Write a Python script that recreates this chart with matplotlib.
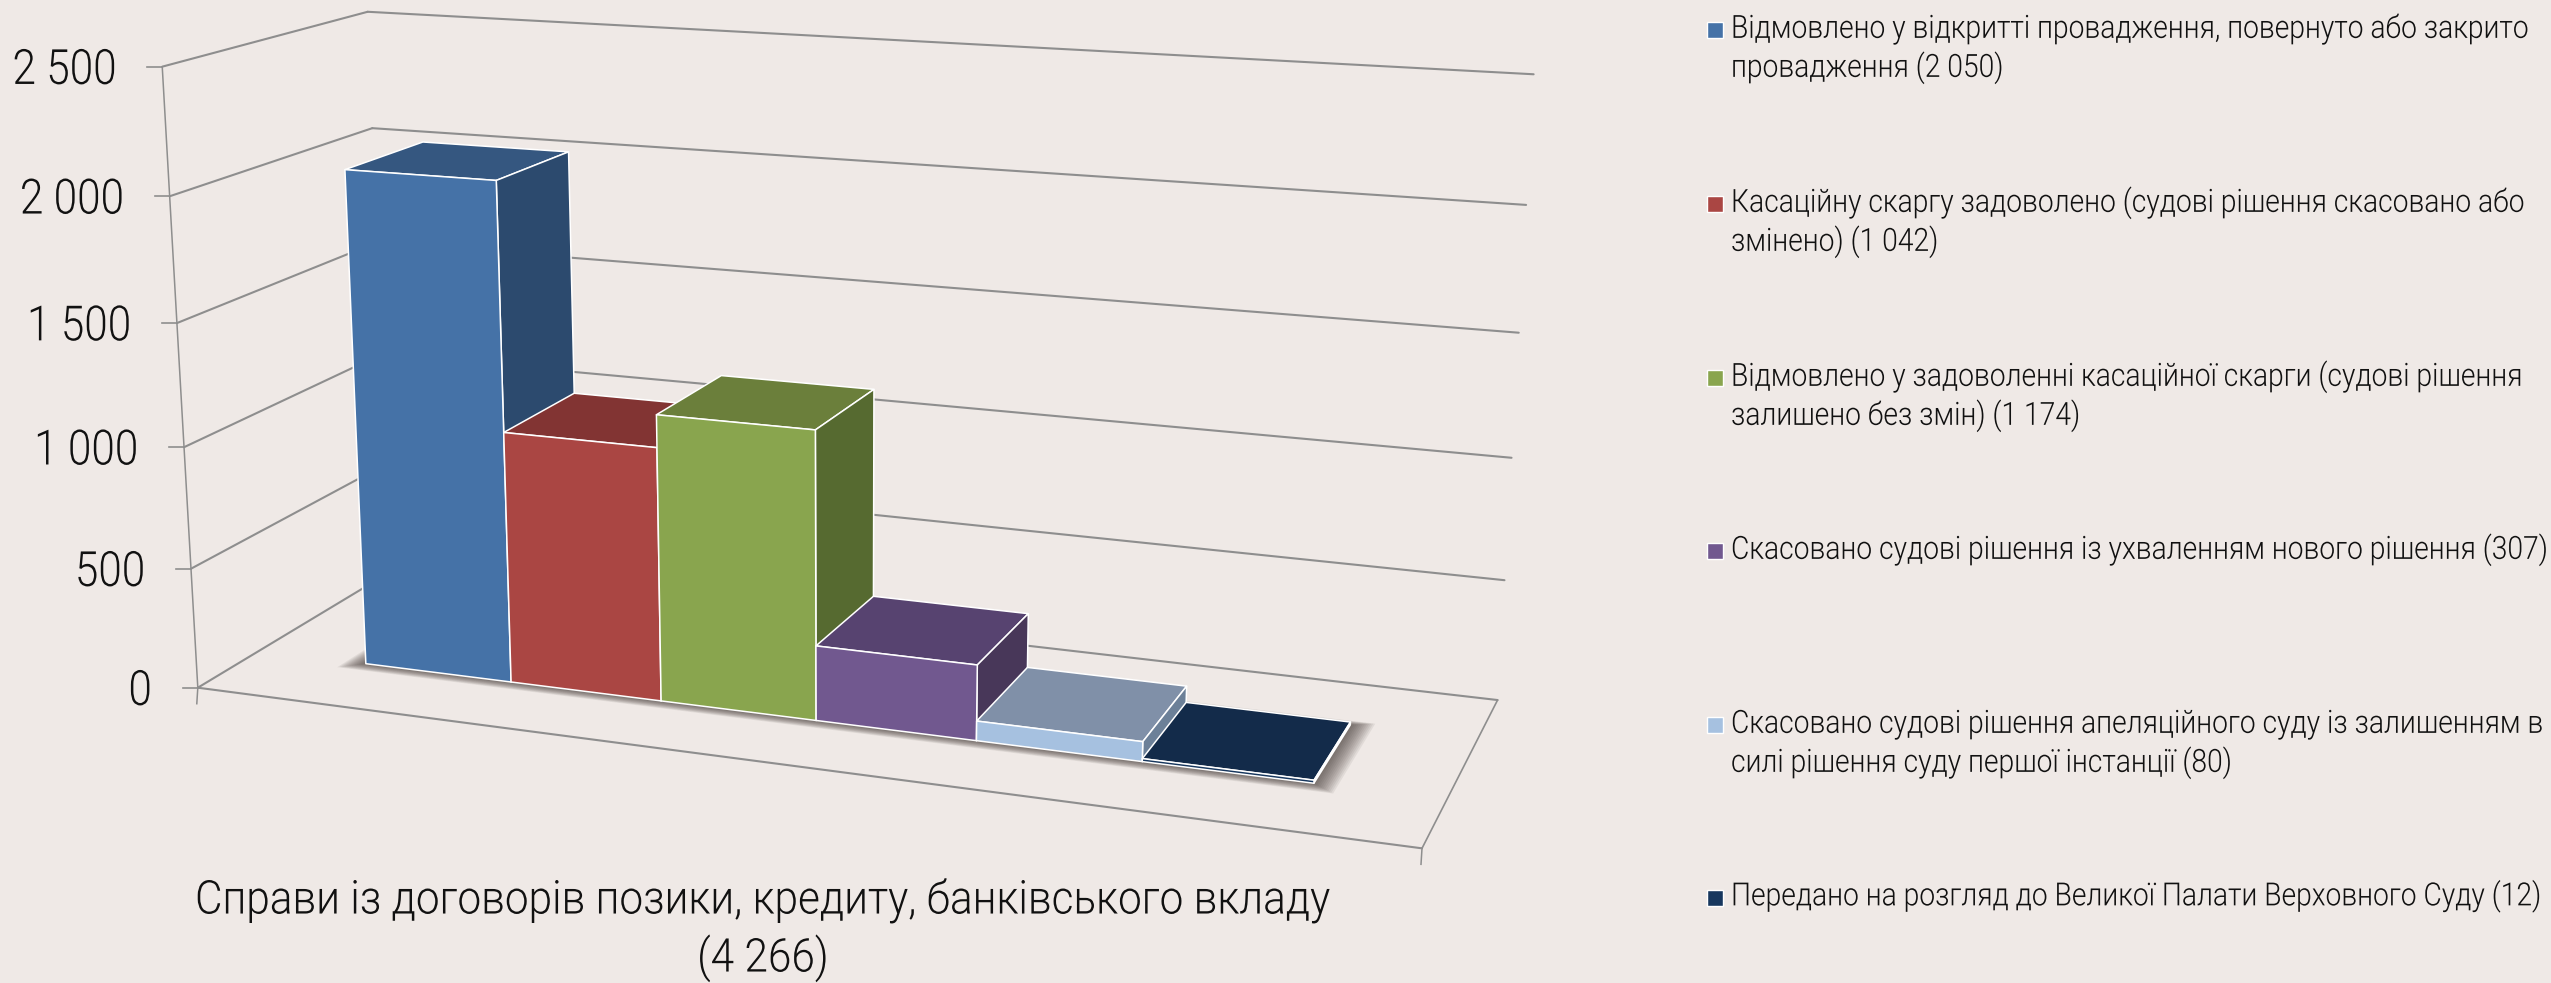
import numpy as np
import matplotlib
matplotlib.use('Agg')
import matplotlib.pyplot as plt
import matplotlib.patheffects as pe
from matplotlib.patches import Polygon
from matplotlib.transforms import Affine2D

values = [2050, 1042, 1174, 307, 80, 12]
labels = ['Відмовлено у відкритті провадження, повернуто або закрито\nпровадження (2 050)',
          'Касаційну скаргу задоволено (судові рішення скасовано або\nзмінено) (1 042)',
          'Відмовлено у задоволенні касаційної скарги (судові рішення\nзалишено без змін) (1 174)',
          'Скасовано судові рішення із ухваленням нового рішення (307)',
          'Скасовано судові рішення апеляційного суду із залишенням в\nсилі рішення суду першої інстанції (80)',
          'Передано на розгляд до Великої Палати Верховного Суду (12)']
category = 'Справи із договорів позики, кредиту, банківського вкладу\n(4 266)'
yticks = [0, 500, 1000, 1500, 2000, 2500]
ytick_labels = ['0', '500', '1 000', '1 500', '2 000', '2 500']

front_colors = ['#4572a7', '#aa4643', '#89a54e', '#71588f', '#a6c1e0', '#17375e']
top_colors = ['#355780', '#823433', '#6b7f3b', '#574370', '#8090a8', '#132b4a']
side_colors = ['#2c4a6e', '#6e2b2a', '#566a30', '#483759', '#6c8098', '#0f233d']
bg = '#efe9e6'
grid = '#8e8e8e'

ymax = 2500
v0, v1 = 0.30, 0.705  # bar depth inside the floor
gap = 0.75            # gap each side, in bar widths

# camera fitted to the frame of the reference, (u, v, w, 1) -> pixels
P = np.array([[1051.0, 236.5, -44.0, 197.8],
              [57.3, -50.7, -624.5, 687.7],
              [-0.1218, 0.1136, -0.052, 1.0]])


class Tall(pe.AbstractPathEffect):
    # no condensed font here, so stretch the glyphs up from the baseline
    def __init__(self, yb, g):
        super().__init__()
        self.yb = yb
        self.g = g

    def draw_path(self, renderer, gc, tpath, affine, rgbFace=None):
        t = affine + Affine2D().translate(0, -self.yb).scale(1, self.g).translate(0, self.yb)
        renderer.draw_path(gc, tpath, t, rgbFace)


def narrow_text(x, y, s, size, ha='left', f=1.0):
    # y is the middle of the capitals in pixels, size the height the font should look
    base = y + 0.711 * size * 100 / 72 / 2
    t = ax.text(x, base, s, ha=ha, va='baseline', fontsize=size * f, family='Roboto', weight=300, color='#111111')
    t.set_path_effects([Tall(983 - base, 1 / f)])
    return t


def project(u, v, z):
    q = P @ np.array([u, v, z / ymax, 1.0])
    return q[0] / q[2], q[1] / q[2]


def face(pts, color, edge='white', lw=1.1, zorder=3):
    xy = [project(*p) for p in pts]
    ax.add_patch(Polygon(xy, closed=True, facecolor=color, edgecolor=edge, lw=lw,
                         joinstyle='round', zorder=zorder))


def line(a, b, lw=1.5):
    xy = np.array([project(*a), project(*b)])
    ax.plot(xy[:, 0], xy[:, 1], color=grid, lw=lw, solid_capstyle='round', zorder=1)


fig = plt.figure(figsize=(25.51, 9.83), dpi=100, facecolor=bg)
ax = fig.add_axes([0, 0, 1, 1])
ax.set_xlim(0, 2551)
ax.set_ylim(983, 0)
ax.axis('off')

# walls and floor
for t in yticks:
    line((0, 0, t), (0, 1, t))
    line((0, 1, t), (1, 1, t))
line((0, 0, 0), (1, 0, 0))
line((1, 0, 0), (1, 1, 0), lw=1.2)
line((0, 0, 0), (0, 0, ymax), lw=1.1)

# tick marks and labels
for t, s in zip(yticks, ytick_labels):
    x, y = project(0, 0, t)
    ax.plot([x - 15, x], [y, y], color=grid, lw=1.2, zorder=1)
    narrow_text(x - 46, y, s, 35, ha='right', f=0.87)
for u in (0, 1):
    x, y = project(u, 0, 0)
    ax.plot([x, x - 1], [y, y + 16], color=grid, lw=1.1, zorder=1)

# soft shadow under the bars
n = len(values)
width = 1 / (n + 2 * gap)
left = gap * width
right = 1 - gap * width
for k in range(12, 0, -1):
    du = 0.0015 * k
    dv = 0.004 * k
    xy = [project(left - du, v0 - dv, 0), project(right + du, v0 - dv, 0),
          project(right + du, v1 + dv * 0.6, 0), project(left - du, v1 + dv * 0.6, 0)]
    ax.add_patch(Polygon(xy, closed=True, facecolor='#3a322c', edgecolor='none', alpha=0.08, zorder=2))

# bars, left to right so the nearer ones cover the others
for i, val in enumerate(values):
    a = left + i * width
    b = a + width
    face([(a, v1, val), (b, v1, val), (b, v0, val), (a, v0, val)], top_colors[i])
    face([(b, v0, 0), (b, v1, 0), (b, v1, val), (b, v0, val)], side_colors[i])
    face([(a, v0, 0), (b, v0, 0), (b, v0, val), (a, v0, val)], front_colors[i])

# category label
for y, part in zip([897, 955], category.split('\n')):
    narrow_text(763, y, part, 33.5, ha='center', f=0.91)

# legend
legend_y = [30, 204, 378, 551, 725, 897.5]
for lab, col, y in zip(labels, front_colors, legend_y):
    ax.add_patch(Polygon([(1707, y - 8), (1723, y - 8), (1723, y + 8), (1707, y + 8)], closed=True,
                         facecolor=col, edgecolor='white', lw=1.0, zorder=3))
    for j, part in enumerate(lab.split('\n')):
        narrow_text(1731, y - 3.5 + j * 39, part, 23, f=0.884)

fig.savefig('out.png', dpi=100, facecolor=bg)
